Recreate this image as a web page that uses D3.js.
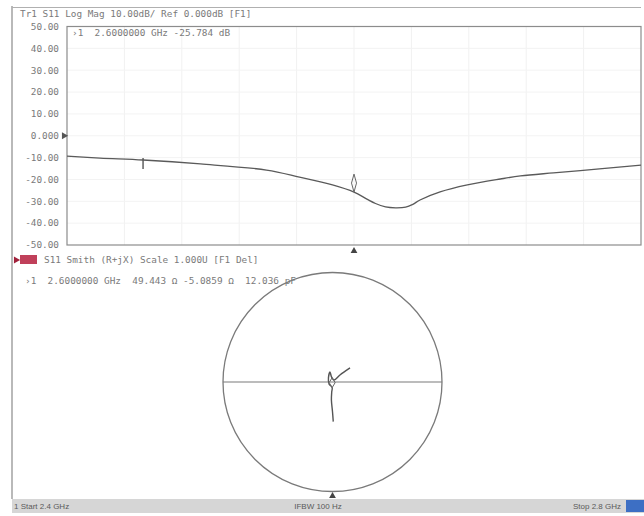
<!DOCTYPE html>
<html>
<head>
<meta charset="utf-8">
<script src="https://cdn.jsdelivr.net/npm/d3@7/dist/d3.min.js"></script>
<style>
  html, body { margin: 0; padding: 0; background: #ffffff; }
  svg { display: block; }
  .mono { font-family: "DejaVu Sans Mono", "Liberation Mono", monospace; font-size: 9.4px; fill: #7a7a7a; white-space: pre; }
  .sans { font-family: "Liberation Sans", "DejaVu Sans", sans-serif; font-size: 8px; fill: #5a5a5a; white-space: pre; }
</style>
</head>
<body>
<svg id="chart" width="644" height="516"></svg>
<script>
// ---- S11 log magnitude sweep (GHz, dB) ----
const freqGHz = [2.400, 2.423, 2.453, 2.493, 2.539, 2.562, 2.585, 2.600, 2.609, 2.615, 2.622, 2.629,
                 2.636, 2.641, 2.646, 2.660, 2.679, 2.702, 2.716, 2.739, 2.771, 2.800];
const s11dB   = [-9.3, -10.2, -11.1, -12.9, -15.7, -18.9, -22.5, -25.784, -29.0, -31.0, -32.6, -33.0,
                 -32.7, -31.4, -29.4, -25.7, -22.5, -19.8, -18.4, -17.0, -15.2, -13.4];

// ---- same sweep on the Smith chart (reflection coefficient, real / imag) ----
const gammaRe = [0.007, 0.000, -0.010, -0.007, -0.003, -0.032, -0.037, -0.023, -0.009, 0.014, 0.068, 0.160];
const gammaIm = [-0.360, -0.270, -0.164, -0.090, -0.051, -0.018, 0.037, 0.091, 0.046, 0.018, 0.064, 0.128];

// ---- axis / annotation values ----
const yTicks = [50, 40, 30, 20, 10, 0, -10, -20, -30, -40, -50];
const yTickLabels = ["50.00", "40.00", "30.00", "20.00", "10.00", "0.000", "-10.00", "-20.00", "-30.00", "-40.00", "-50.00"];
const markerFreq = 2.6;
const markerDB = -25.784;
const markerGamma = [-0.003, -0.051];
const refTickFreq = [2.453];
const sweepStart = 2.4, sweepStop = 2.8;

const svg = d3.select("#chart");

// ---- scales ----
const x = d3.scaleLinear().domain([sweepStart, sweepStop]).range([67, 641]);
const y = d3.scaleLinear().domain([-50, 50]).range([245, 26.5]);
const gx = d3.scaleLinear().domain([-1, 1]).range([223, 442]);
const gy = d3.scaleLinear().domain([-1, 1]).range([492, 272]);

// ---- outer frame ----
svg.append("line").attr("x1", 12).attr("x2", 12).attr("y1", 6).attr("y2", 499)
   .attr("stroke", "#8a8a8a").attr("stroke-width", 1.2);
svg.append("line").attr("x1", 12).attr("x2", 641).attr("y1", 7.5).attr("y2", 7.5)
   .attr("stroke", "#b0b0b0").attr("stroke-width", 1);

svg.append("text").attr("class", "mono").attr("x", 20).attr("y", 17)
   .text("Tr1 S11 Log Mag 10.00dB/ Ref 0.000dB [F1]");

// ---- log-mag grid ----
const grid = svg.append("g");
grid.selectAll("line.v").data(d3.range(1, 10)).join("line")
  .attr("x1", i => x(sweepStart + i * (sweepStop - sweepStart) / 10))
  .attr("x2", i => x(sweepStart + i * (sweepStop - sweepStart) / 10))
  .attr("y1", y(50)).attr("y2", y(-50))
  .attr("stroke", "#f1f1f1").attr("stroke-width", 1);
grid.selectAll("line.h").data(yTicks.slice(1, -1)).join("line")
  .attr("x1", x(sweepStart)).attr("x2", x(sweepStop))
  .attr("y1", d => y(d)).attr("y2", d => y(d))
  .attr("stroke", "#f3f3f3").attr("stroke-width", 1);

svg.append("rect").attr("x", x(sweepStart)).attr("y", y(50))
  .attr("width", x(sweepStop) - x(sweepStart)).attr("height", y(-50) - y(50))
  .attr("fill", "none").attr("stroke", "#8c8c8c").attr("stroke-width", 1.2);

// y-axis labels
svg.append("g").selectAll("text").data(yTicks).join("text")
  .attr("class", "mono").attr("x", 59).attr("y", d => y(d) + 3.3)
  .attr("text-anchor", "end").text((d, i) => yTickLabels[i]);

// reference level pointer
svg.append("path")
  .attr("d", d3.symbol(d3.symbolTriangle, 22)())
  .attr("transform", `translate(${x(sweepStart) - 3},${y(0)}) rotate(90)`)
  .attr("fill", "#555");

// marker readout
svg.append("text").attr("class", "mono").attr("x", 72).attr("y", 36)
  .text("\u203A1  2.6000000 GHz -25.784 dB");

// trace
const line = d3.line().x(d => x(d[0])).y(d => y(d[1])).curve(d3.curveCatmullRom);
svg.append("path")
  .datum(freqGHz.map((f, i) => [f, s11dB[i]]))
  .attr("d", line).attr("fill", "none").attr("stroke", "#5a5a5a").attr("stroke-width", 1.3);

// reference tick on the trace
svg.selectAll("line.reftick").data(refTickFreq).join("line")
  .attr("x1", d => x(d)).attr("x2", d => x(d))
  .attr("y1", d => y(s11dB[freqGHz.indexOf(d)]) - 2)
  .attr("y2", d => y(s11dB[freqGHz.indexOf(d)]) + 9)
  .attr("stroke", "#555").attr("stroke-width", 1.4);

// marker 1 symbol
{
  const mx = x(markerFreq), my = y(markerDB);
  svg.append("path")
    .attr("d", `M${mx},${my} L${mx - 2.5},${my - 9} L${mx},${my - 18} L${mx + 2.5},${my - 9} Z`)
    .attr("fill", "none").attr("stroke", "#666").attr("stroke-width", 1);
  // marker position triangle below the grid
  svg.append("path")
    .attr("d", d3.symbol(d3.symbolTriangle, 20)())
    .attr("transform", `translate(${mx},${y(-50) + 6})`)
    .attr("fill", "#444");
}

// ---- Smith chart section ----
svg.append("path")
  .attr("d", d3.symbol(d3.symbolTriangle, 22)())
  .attr("transform", "translate(16,260) rotate(90)")
  .attr("fill", "#a0203a");
svg.append("rect").attr("x", 20).attr("y", 255).attr("width", 17).attr("height", 9)
  .attr("fill", "#c0405a");
svg.append("text").attr("class", "mono").attr("x", 44).attr("y", 263)
  .text("S11 Smith (R+jX) Scale 1.000U [F1 Del]");
svg.append("text").attr("class", "mono").attr("x", 25).attr("y", 284)
  .text("\u203A1  2.6000000 GHz  49.443 \u03A9 -5.0859 \u03A9  12.036 pF");

svg.append("circle").attr("cx", gx(0)).attr("cy", gy(0)).attr("r", gx(1) - gx(0))
  .attr("fill", "none").attr("stroke", "#7a7a7a").attr("stroke-width", 1.3);
svg.append("line").attr("x1", gx(-1)).attr("x2", gx(1)).attr("y1", gy(0)).attr("y2", gy(0))
  .attr("stroke", "#7a7a7a").attr("stroke-width", 1.2);

const smithLine = d3.line().x(d => gx(d[0])).y(d => gy(d[1])).curve(d3.curveCatmullRom);
svg.append("path")
  .datum(gammaRe.map((r, i) => [r, gammaIm[i]]))
  .attr("d", smithLine).attr("fill", "none").attr("stroke", "#555").attr("stroke-width", 1.4);

// Smith marker symbol
{
  const mx = gx(markerGamma[0]), my = gy(markerGamma[1]);
  svg.append("path")
    .attr("d", `M${mx},${my} L${mx - 3},${my - 5} L${mx},${my - 10} L${mx + 3},${my - 5} Z`)
    .attr("fill", "none").attr("stroke", "#666").attr("stroke-width", 1);
}
svg.append("path")
  .attr("d", d3.symbol(d3.symbolTriangle, 20)())
  .attr("transform", `translate(${gx(0)},${gy(-1) + 4})`)
  .attr("fill", "#444");

// ---- status bar ----
svg.append("rect").attr("x", 12).attr("y", 499).attr("width", 632).attr("height", 14)
  .attr("fill", "#d6d6d6");
svg.append("rect").attr("x", 626).attr("y", 500).attr("width", 18).attr("height", 12)
  .attr("fill", "#3d6fc4");
svg.append("text").attr("class", "sans").attr("x", 14).attr("y", 509).text("1 Start 2.4 GHz");
svg.append("text").attr("class", "sans").attr("x", 318).attr("y", 509)
  .attr("text-anchor", "middle").text("IFBW 100 Hz");
svg.append("text").attr("class", "sans").attr("x", 621).attr("y", 509)
  .attr("text-anchor", "end").text("Stop 2.8 GHz");
</script>
</body>
</html>
